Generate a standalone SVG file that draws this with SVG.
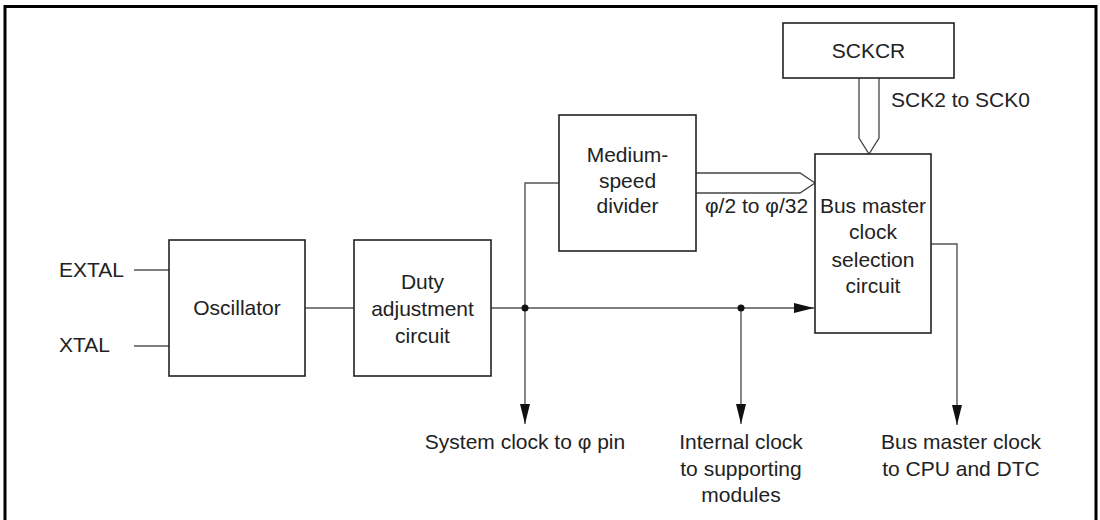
<svg xmlns="http://www.w3.org/2000/svg" width="1100" height="520" viewBox="0 0 1100 520">
<defs>
<style>
.box{fill:#fff;stroke:#222;stroke-width:1.6}
.ln{fill:none;stroke:#555;stroke-width:1.4}
.bus{fill:#fff;stroke:#444;stroke-width:1.3}
text{font-family:"Liberation Sans",Arial,sans-serif;font-size:21px;fill:#222}
.c{text-anchor:middle}
</style>
<marker id="ah" markerWidth="20" markerHeight="10" refX="20" refY="5" orient="auto" markerUnits="userSpaceOnUse">
<path d="M0,0 L20,5 L0,10 Z" fill="#111"/>
</marker>
</defs>
<rect width="1100" height="520" fill="#fff"/>
<path d="M5,530 V6.5 H1096 V530" fill="none" stroke="#000" stroke-width="3"/>

<g id="connectors">
<line class="ln" x1="134" y1="270" x2="169" y2="270"/>
<line class="ln" x1="134" y1="346" x2="169" y2="346"/>
<line class="ln" x1="305" y1="308" x2="354" y2="308"/>
<line class="ln" x1="491" y1="308" x2="814" y2="308" marker-end="url(#ah)"/>
<polyline class="ln" points="559,183 525,183 525,424" marker-end="url(#ah)"/>
<line class="ln" x1="741" y1="308" x2="741" y2="424" marker-end="url(#ah)"/>
<polyline class="ln" points="931,244 957,244 957,425" marker-end="url(#ah)"/>
<circle cx="525" cy="308" r="3.5" fill="#111"/>
<circle cx="741" cy="308" r="3.5" fill="#111"/>
<path class="bus" d="M696,173 H800 L815,183 L800,193 H696"/>
<path class="bus" d="M859,78 V138 L869,154 L879,138 V78"/>
</g>

<g id="extal"><text x="59" y="277">EXTAL</text></g>
<g id="xtal"><text x="59" y="352">XTAL</text></g>

<g id="oscillator">
<rect class="box" x="169" y="240" width="136" height="136"/>
<text class="c" x="237" y="315">Oscillator</text>
</g>

<g id="duty">
<rect class="box" x="354" y="240" width="137" height="136"/>
<text class="c" x="422.5" y="289">Duty</text>
<text class="c" x="422.5" y="316">adjustment</text>
<text class="c" x="422.5" y="343">circuit</text>
</g>

<g id="divider">
<rect class="box" x="559" y="115" width="137" height="136"/>
<text class="c" x="627.5" y="162">Medium-</text>
<text class="c" x="627.5" y="188">speed</text>
<text class="c" x="627.5" y="213">divider</text>
</g>
<g id="divlabel"><text x="705" y="213">φ/2 to φ/32</text></g>

<g id="sckcr">
<rect class="box" x="783" y="23" width="171" height="55"/>
<text class="c" x="868.5" y="58">SCKCR</text>
</g>
<g id="scklabel"><text x="891" y="107">SCK2 to SCK0</text></g>

<g id="busmaster">
<rect class="box" x="815" y="154" width="116" height="179"/>
<text class="c" x="873" y="213">Bus master</text>
<text class="c" x="873" y="239">clock</text>
<text class="c" x="873" y="267">selection</text>
<text class="c" x="873" y="293">circuit</text>
</g>

<g id="out-system"><text class="c" x="525" y="449">System clock to φ pin</text></g>
<g id="out-internal">
<text class="c" x="741" y="449">Internal clock</text>
<text class="c" x="741" y="476">to supporting</text>
<text class="c" x="741" y="502">modules</text>
</g>
<g id="out-bus">
<text class="c" x="961" y="449">Bus master clock</text>
<text class="c" x="961" y="476">to CPU and DTC</text>
</g>
</svg>
